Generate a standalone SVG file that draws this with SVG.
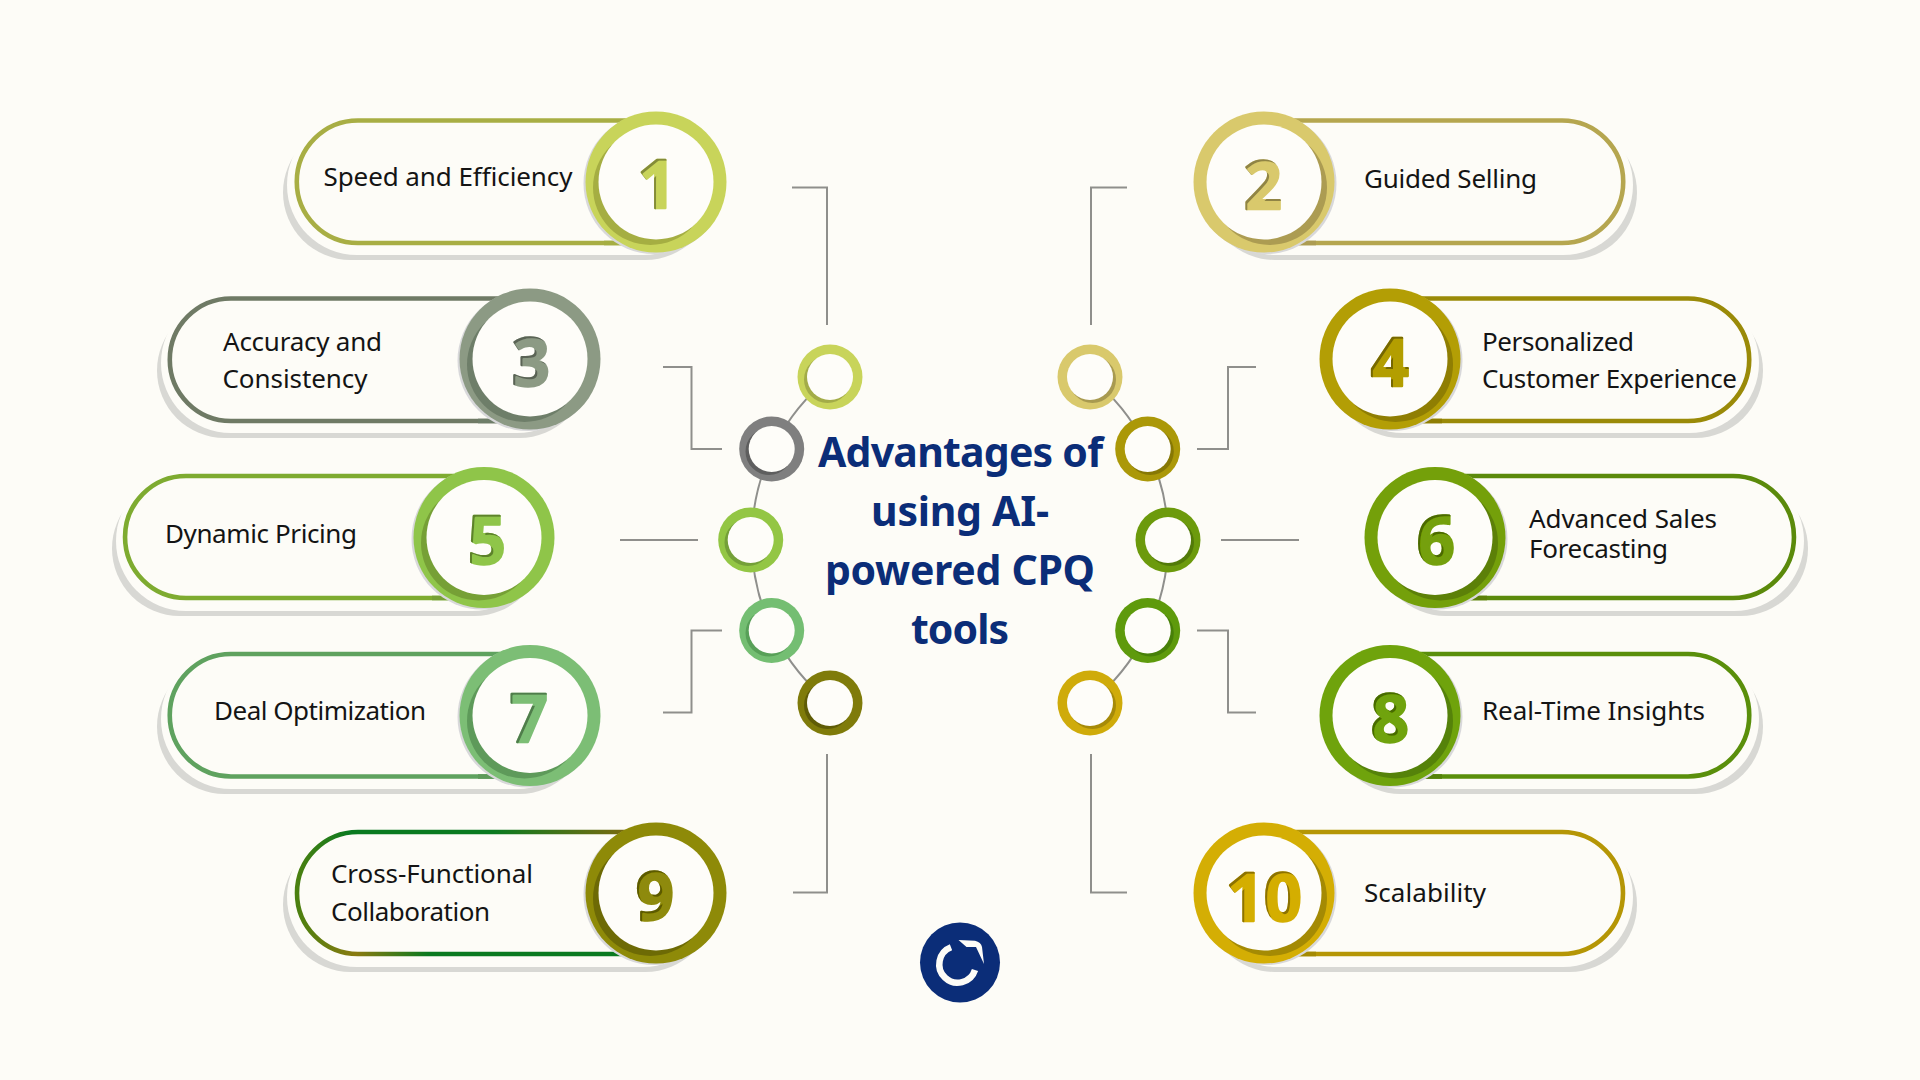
<svg xmlns="http://www.w3.org/2000/svg" width="1920" height="1080" viewBox="0 0 1920 1080">
<style>
.bg{fill:#FDFCF7}
.sh{fill:#D8D8D4}
.cv{fill:#FDFCF7}
.pl{fill:none;stroke:var(--p);stroke-width:4.6}
.pd{fill:none;stroke:var(--d);stroke-width:4.6}
.rs{fill:#D8D8DA}
.rg{fill:var(--m)}
.dk{fill:var(--d)}
.ho{fill:#FEFDF9}
.dg{font-family:"Noto Sans",sans-serif;font-weight:700;font-size:66px;text-anchor:middle;fill:var(--m);stroke:var(--m);stroke-width:2.5;stroke-linejoin:round;filter:url(#inset)}
.lb{font-family:"Noto Sans","Open Sans",sans-serif;font-size:26px;fill:#141414}
.tt{font-family:"Noto Sans",sans-serif;font-weight:700;font-size:41px;fill:#0B2D78;text-anchor:middle}
.cn{fill:none;stroke:#8F8F8C;stroke-width:2}
.n1{--m:#C8D45A;--d:#A5AE42;--p:#A8AE44}
.n2{--m:#D9C96C;--d:#AC9C52;--p:#B5A64F}
.n3{--m:#8C9A84;--d:#6E7E69;--p:#6F7A65}
.n4{--m:#B39E05;--d:#8F7E03;--p:#9A8A08}
.n5{--m:#8FC549;--d:#76A036;--p:#7EAB30}
.n6{--m:#74A00A;--d:#5C8008;--p:#5B8A0B}
.n7{--m:#7CBE75;--d:#5E9A5A;--p:#5FA25F}
.n8{--m:#6FA30C;--d:#55820A;--p:#5A8F0B}
.n9{--m:#8E8A08;--d:#6D6A05;--p:#0A7A20}
.n10{--m:#D4AE04;--d:#A48A04;--p:#B59605}
.r1{--m:#C8D45A;--d:#A3AC48}
.r2{--m:#7F7F7F;--d:#5E5E5E}
.r3{--m:#93C644;--d:#74A038}
.r4{--m:#74BE72;--d:#58A058}
.r5{--m:#7F7B0A;--d:#5F5C06}
.r6{--m:#D9C96C;--d:#A89A50}
.r7{--m:#AB9808;--d:#877804}
.r8{--m:#6C9A0C;--d:#527A08}
.r9{--m:#5E9A0C;--d:#478008}
.r10{--m:#CFAB0A;--d:#A68A08}
</style>
<defs>
<filter id="inset" x="-20%" y="-20%" width="140%" height="140%">
<feOffset in="SourceAlpha" dx="1.5" dy="2" result="o"/>
<feComposite in="SourceAlpha" in2="o" operator="out" result="e"/>
<feFlood flood-color="#000" flood-opacity="0.6"/>
<feComposite in2="e" operator="in" result="s"/>
<feMerge><feMergeNode in="SourceGraphic"/><feMergeNode in="s"/></feMerge>
</filter>
<linearGradient id="g9t" gradientUnits="userSpaceOnUse" x1="297" y1="0" x2="625" y2="0">
<stop offset="0" stop-color="#4B8010"/><stop offset="0.16" stop-color="#0A7A20"/><stop offset="0.6" stop-color="#0A7A20"/><stop offset="1" stop-color="#7A6A10"/>
</linearGradient>
<linearGradient id="g9b" gradientUnits="userSpaceOnUse" x1="297" y1="0" x2="625" y2="0">
<stop offset="0" stop-color="#4B8010"/><stop offset="0.18" stop-color="#8A7A10"/><stop offset="0.4" stop-color="#0A7A20"/><stop offset="1" stop-color="#0A7A20"/>
</linearGradient>
</defs>
<rect class="bg" width="1920" height="1080"/>

<g id="connectors">
<path class="cn" d="M792 187.500H827V325"/>
<path class="cn" d="M663 367H691.500V449H722"/>
<path class="cn" d="M620 540H698"/>
<path class="cn" d="M663 712.500H691.500V630.500H722"/>
<path class="cn" d="M793 892.500H827V754"/>
<path class="cn" d="M1127 187.500H1091V325"/>
<path class="cn" d="M1256 367H1228V449H1197"/>
<path class="cn" d="M1299 540H1221"/>
<path class="cn" d="M1256 712.500H1228V630.500H1197"/>
<path class="cn" d="M1127 892.500H1091V754"/>
<path class="cn" d="M830 377A209 209 0 0 0 830 703"/>
<path class="cn" d="M1090 377A209 209 0 0 1 1090 703"/>
</g>

<g id="node-1" class="n1">
<rect class="sh" x="283" y="125" width="430" height="135" rx="67.500"/>
<rect class="cv" x="287" y="115" width="426" height="140" rx="70"/>
<path class="pl" d="M626 120.500H358A61 61 0 0 0 358 243H626"/>
<path class="pd" d="M604 243H630"/>
<circle class="rs" cx="654" cy="183.500" r="70.500"/>
<circle class="rg" cx="656" cy="182" r="70.500"/>
<circle class="dk" cx="650.500" cy="187.500" r="57.500"/>
<circle class="ho" cx="656" cy="182" r="57.500"/>
<text class="dg" x="657" y="208">1</text>
<text class="lb" x="323.500" y="185.500" textLength="249">Speed and Efficiency</text>
</g>

<g id="node-2" class="n2">
<rect class="sh" x="1207" y="125" width="430" height="135" rx="67.500"/>
<rect class="cv" x="1207" y="115" width="426" height="140" rx="70"/>
<path class="pl" d="M1294 120.500H1562A61 61 0 0 1 1562 243H1294"/>
<path class="pd" d="M1316 243H1290"/>
<circle class="rs" cx="1266" cy="183.500" r="70.500"/>
<circle class="rg" cx="1264" cy="182" r="70.500"/>
<circle class="dk" cx="1269.500" cy="187.500" r="57.500"/>
<circle class="ho" cx="1264" cy="182" r="57.500"/>
<text class="dg" x="1263" y="209">2</text>
<text class="lb" x="1364" y="187.500" textLength="173">Guided Selling</text>
</g>

<g id="node-3" class="n3">
<rect class="sh" x="157" y="303" width="430" height="135" rx="67.500"/>
<rect class="cv" x="161" y="293" width="426" height="140" rx="70"/>
<path class="pl" d="M500 298.500H231A61 61 0 0 0 231 421H500"/>
<path class="pd" d="M478 421H504"/>
<circle class="rs" cx="528" cy="360.500" r="70.500"/>
<circle class="rg" cx="530" cy="359" r="70.500"/>
<circle class="dk" cx="524.500" cy="364.500" r="57.500"/>
<circle class="ho" cx="530" cy="359" r="57.500"/>
<text class="dg" x="531" y="386">3</text>
<text class="lb" x="223" y="350.500" textLength="159">Accuracy and</text>
<text class="lb" x="222.500" y="387.500" textLength="145">Consistency</text>
</g>

<g id="node-4" class="n4">
<rect class="sh" x="1333" y="303" width="430" height="135" rx="67.500"/>
<rect class="cv" x="1333" y="293" width="426" height="140" rx="70"/>
<path class="pl" d="M1420 298.500H1688A61 61 0 0 1 1688 421H1420"/>
<path class="pd" d="M1442 421H1416"/>
<circle class="rs" cx="1392" cy="360.500" r="70.500"/>
<circle class="rg" cx="1390" cy="359" r="70.500"/>
<circle class="dk" cx="1395.500" cy="364.500" r="57.500"/>
<circle class="ho" cx="1390" cy="359" r="57.500"/>
<text class="dg" x="1390" y="386">4</text>
<text class="lb" x="1482" y="350.500" textLength="152">Personalized</text>
<text class="lb" x="1482" y="387.500" textLength="255">Customer Experience</text>
</g>

<g id="node-5" class="n5">
<rect class="sh" x="112" y="481" width="430" height="135" rx="67.500"/>
<rect class="cv" x="116" y="471" width="426" height="140" rx="70"/>
<path class="pl" d="M454 476H186A61 61 0 0 0 186 598H454"/>
<path class="pd" d="M432 598H458"/>
<circle class="rs" cx="482" cy="539" r="70.500"/>
<circle class="rg" cx="484" cy="537.500" r="70.500"/>
<circle class="dk" cx="478.500" cy="543" r="57.500"/>
<circle class="ho" cx="484" cy="537.500" r="57.500"/>
<text class="dg" x="487" y="564">5</text>
<text class="lb" x="165" y="542.500" textLength="192">Dynamic Pricing</text>
</g>

<g id="node-6" class="n6">
<rect class="sh" x="1378" y="481" width="430" height="135" rx="67.500"/>
<rect class="cv" x="1378" y="471" width="426" height="140" rx="70"/>
<path class="pl" d="M1465 476H1733A61 61 0 0 1 1733 598H1465"/>
<path class="pd" d="M1487 598H1461"/>
<circle class="rs" cx="1437" cy="539" r="70.500"/>
<circle class="rg" cx="1435" cy="537.500" r="70.500"/>
<circle class="dk" cx="1440.500" cy="543" r="57.500"/>
<circle class="ho" cx="1435" cy="537.500" r="57.500"/>
<text class="dg" x="1436" y="564">6</text>
<text class="lb" x="1529" y="528" textLength="188">Advanced Sales</text>
<text class="lb" x="1529" y="557.500" textLength="139">Forecasting</text>
</g>

<g id="node-7" class="n7">
<rect class="sh" x="157" y="659" width="430" height="135" rx="67.500"/>
<rect class="cv" x="161" y="649" width="426" height="140" rx="70"/>
<path class="pl" d="M500 654H231A61 61 0 0 0 231 776.500H500"/>
<path class="pd" d="M478 776.500H504"/>
<circle class="rs" cx="528" cy="717" r="70.500"/>
<circle class="rg" cx="530" cy="715.500" r="70.500"/>
<circle class="dk" cx="524.500" cy="721" r="57.500"/>
<circle class="ho" cx="530" cy="715.500" r="57.500"/>
<text class="dg" x="529" y="742">7</text>
<text class="lb" x="214" y="719.500" textLength="212">Deal Optimization</text>
</g>

<g id="node-8" class="n8">
<rect class="sh" x="1333" y="659" width="430" height="135" rx="67.500"/>
<rect class="cv" x="1333" y="649" width="426" height="140" rx="70"/>
<path class="pl" d="M1420 654H1688A61 61 0 0 1 1688 776.500H1420"/>
<path class="pd" d="M1442 776.500H1416"/>
<circle class="rs" cx="1392" cy="717" r="70.500"/>
<circle class="rg" cx="1390" cy="715.500" r="70.500"/>
<circle class="dk" cx="1395.500" cy="721" r="57.500"/>
<circle class="ho" cx="1390" cy="715.500" r="57.500"/>
<text class="dg" x="1390" y="742">8</text>
<text class="lb" x="1482" y="719.500" textLength="223">Real-Time Insights</text>
</g>

<g id="node-9" class="n9">
<rect class="sh" x="283" y="837" width="430" height="135" rx="67.500"/>
<rect class="cv" x="287" y="827" width="426" height="140" rx="70"/>
<path fill="none" stroke="url(#g9t)" stroke-width="4.600" d="M626 832H358A61 61 0 0 0 297 893"/>
<path fill="none" stroke="url(#g9b)" stroke-width="4.600" d="M297 893A61 61 0 0 0 358 954H626"/>
<circle class="rs" cx="654" cy="894.500" r="70.500"/>
<circle class="rg" cx="656" cy="893" r="70.500"/>
<circle class="dk" cx="650.500" cy="898.500" r="57.500"/>
<circle class="ho" cx="656" cy="893" r="57.500"/>
<text class="dg" x="655" y="920">9</text>
<text class="lb" x="331" y="883" textLength="202">Cross-Functional</text>
<text class="lb" x="331" y="920.500" textLength="159">Collaboration</text>
</g>

<g id="node-10" class="n10">
<rect class="sh" x="1207" y="837" width="430" height="135" rx="67.500"/>
<rect class="cv" x="1207" y="827" width="426" height="140" rx="70"/>
<path class="pl" d="M1294 832H1562A61 61 0 0 1 1562 954H1294"/>
<path class="pd" d="M1316 954H1290"/>
<circle class="rs" cx="1266" cy="894.500" r="70.500"/>
<circle class="rg" cx="1264" cy="893" r="70.500"/>
<circle class="dk" cx="1269.500" cy="898.500" r="57.500"/>
<circle class="ho" cx="1264" cy="893" r="57.500"/>
<text class="dg" x="1264" y="921">10</text>
<text class="lb" x="1364" y="901.500" textLength="122">Scalability</text>
</g>

<g id="rings">
<g id="ring-1" class="r1"><circle class="rg" cx="830" cy="377" r="32.500"/><circle class="dk" cx="827.500" cy="379.500" r="23.500"/><circle class="ho" cx="830" cy="377" r="23"/></g>
<g id="ring-3" class="r2"><circle class="rg" cx="771.700" cy="449" r="32.500"/><circle class="dk" cx="769" cy="451.500" r="23.500"/><circle class="ho" cx="771.700" cy="449" r="23"/></g>
<g id="ring-5" class="r3"><circle class="rg" cx="750.700" cy="540" r="32.500"/><circle class="dk" cx="748" cy="542.500" r="23.500"/><circle class="ho" cx="750.700" cy="540" r="23"/></g>
<g id="ring-7" class="r4"><circle class="rg" cx="771.700" cy="630.500" r="32.500"/><circle class="dk" cx="769" cy="633" r="23.500"/><circle class="ho" cx="771.700" cy="630.500" r="23"/></g>
<g id="ring-9" class="r5"><circle class="rg" cx="830" cy="703" r="32.500"/><circle class="dk" cx="827.500" cy="705.500" r="23.500"/><circle class="ho" cx="830" cy="703" r="23"/></g>
<g id="ring-2" class="r6"><circle class="rg" cx="1090" cy="377" r="32.500"/><circle class="dk" cx="1092.500" cy="379.500" r="23.500"/><circle class="ho" cx="1090" cy="377" r="23"/></g>
<g id="ring-4" class="r7"><circle class="rg" cx="1147.700" cy="449" r="32.500"/><circle class="dk" cx="1150.300" cy="451.500" r="23.500"/><circle class="ho" cx="1147.700" cy="449" r="23"/></g>
<g id="ring-6" class="r8"><circle class="rg" cx="1168" cy="540" r="32.500"/><circle class="dk" cx="1170.500" cy="542.500" r="23.500"/><circle class="ho" cx="1168" cy="540" r="23"/></g>
<g id="ring-8" class="r9"><circle class="rg" cx="1147.700" cy="630.500" r="32.500"/><circle class="dk" cx="1150.300" cy="633" r="23.500"/><circle class="ho" cx="1147.700" cy="630.500" r="23"/></g>
<g id="ring-10" class="r10"><circle class="rg" cx="1090" cy="703" r="32.500"/><circle class="dk" cx="1092.500" cy="705.500" r="23.500"/><circle class="ho" cx="1090" cy="703" r="23"/></g>
</g>

<g id="title">
<text class="tt" x="960.500" y="466.500" textLength="285">Advantages of</text>
<text class="tt" x="960" y="525.500" textLength="178">using AI-</text>
<text class="tt" x="960" y="584.500" textLength="270">powered CPQ</text>
<text class="tt" x="960" y="643.500" textLength="98">tools</text>
</g>

<g id="logo">
<circle cx="960" cy="962.500" r="40" fill="#0B2D78"/>
<path d="M951 947.300A18.300 18.300 0 1 0 975 970" fill="none" stroke="#FDFCF7" stroke-width="6.500"/>
<path d="M958.500 940L975 940.700Q981 942 982 947L984 964L976 947L966.500 947Z" fill="#FDFCF7"/>
</g>
</svg>
